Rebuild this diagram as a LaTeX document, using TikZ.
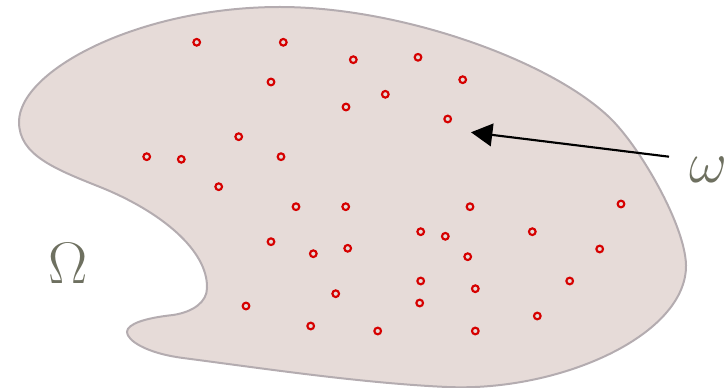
\documentclass[tikz,border=0pt]{standalone}
\usetikzlibrary{arrows.meta}
\definecolor{blobfill}{RGB}{230,219,216}
\definecolor{blobline}{RGB}{180,172,176}
\definecolor{dotred}{RGB}{214,0,0}
\definecolor{labelgrey}{RGB}{110,112,96}
\tikzset{
  blob/.style={fill=blobfill, draw=blobline, line width=1.5pt},
  pt/.style={circle, draw=dotred, line width=1.6pt, inner sep=0pt, minimum size=5pt},
  lbl/.style={text=labelgrey, font=\Huge, inner sep=0pt, scale=1.77},
  pointer/.style={line width=1.6pt, -{Triangle[length=16pt,width=17pt]}}
}
\begin{document}
\begin{tikzpicture}[x=0.75pt,y=-0.75pt]
\useasboundingbox (0,0) rectangle (727,388);
\draw[blob] (19,122)
  .. controls (19,70) and (140,7) .. (280,7)
  .. controls (400,7) and (550,60) .. (610,118)
  .. controls (640,147) and (685,225) .. (686,265)
  .. controls (687,335) and (560,392) .. (447,387)
  .. controls (360,383) and (260,368) .. (183,358)
  .. controls (145,353) and (127,340) .. (127,332)
  .. controls (127,324) and (145,318) .. (173,315)
  .. controls (193,312) and (207,302) .. (207,288)
  .. controls (208,250) and (160,211) .. (100,187)
  .. controls (55,169) and (19,155) .. (19,122) -- cycle;
\foreach \x/\y [count=\i] in {
 196.7/42.3, 283.3/42.3, 353.3/59.7, 418/57.3, 462.7/79.7, 271/82,
 346/107, 385.3/94.3, 447.7/119, 238.7/136.7, 146.7/156.7, 181.3/159.3,
 281/156.7, 218.7/186.7, 296/206.7, 345.7/206.7, 470/206.7, 621/204,
 271/241.7, 420.7/231.7, 445.3/236.3, 532.3/231.7, 313.3/253.7, 347.7/248.3,
 467.7/256.7, 599.7/249, 420.7/281, 475.3/288.7, 569.7/281, 335.7/293.7,
 419.7/303, 246/306, 537.3/316, 310.7/326, 377.7/331, 475.3/331}
  \node[pt] (d\i) at (\x,\y) {};
\node[lbl] (Omega) at (68,263) {$\Omega$};
\node[lbl] (omega) at (708,170) {$\omega$};
\coordinate (tail) at (669,156.7);
\coordinate (tip) at (471,132.3);
\draw[pointer] (tail) -- (tip);
\end{tikzpicture}
\end{document}
